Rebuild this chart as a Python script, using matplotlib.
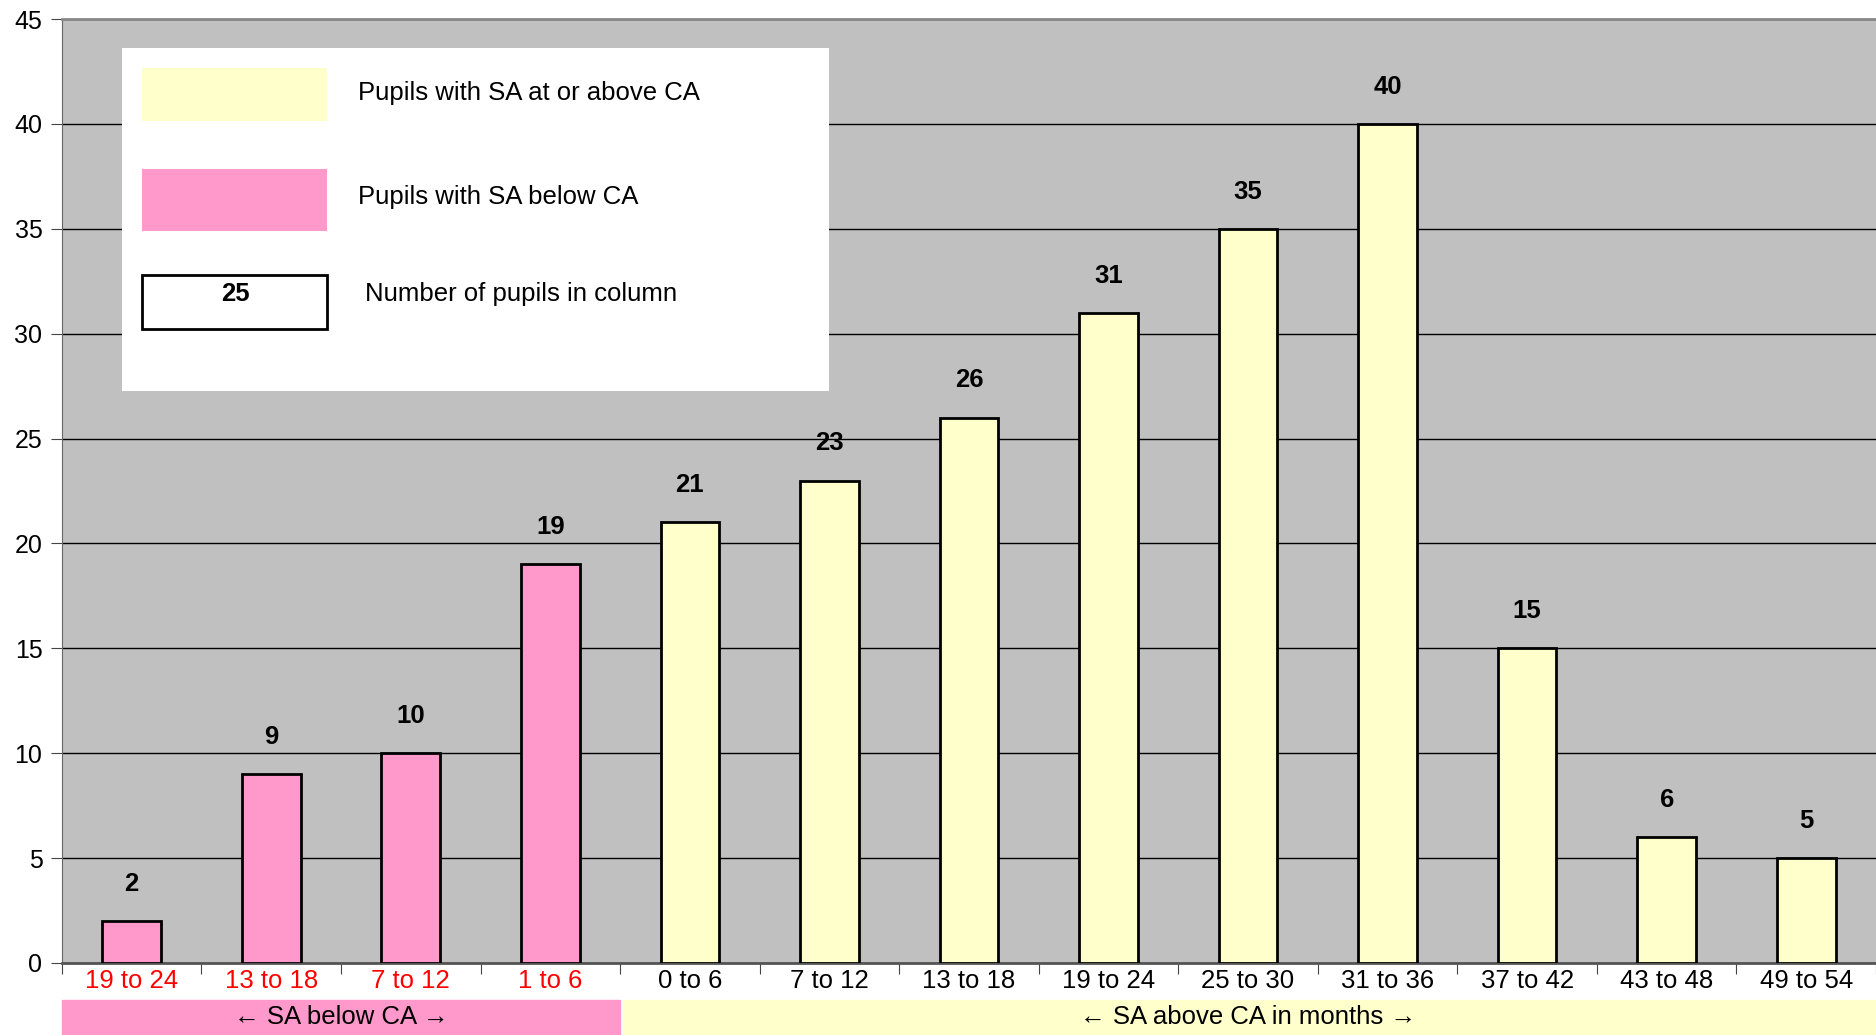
import numpy as np
import matplotlib
matplotlib.use("Agg")
import matplotlib.pyplot as plt
from matplotlib.patches import Rectangle

plt.rcParams['font.family'] = ['Liberation Sans', 'DejaVu Sans']

# data
categories = ["19 to 24", "13 to 18", "7 to 12", "1 to 6", "0 to 6", "7 to 12",
              "13 to 18", "19 to 24", "25 to 30", "31 to 36", "37 to 42",
              "43 to 48", "49 to 54"]
pupils = [2, 9, 10, 19, 21, 23, 26, 31, 35, 40, 15, 6, 5]
below = [True, True, True, True, False, False, False, False, False, False, False, False, False]

yellow = "#FFFFCC"
pink = "#FF99CC"

fig = plt.figure(figsize=(18.76, 10.35), dpi=100)
ax = fig.add_axes([0.033, 0.0696, 0.967, 0.912])
ax.set_facecolor("#C0C0C0")

x = np.arange(len(categories))
cols = [pink if b else yellow for b in below]
ax.bar(x, pupils, width=0.42, color=cols, edgecolor="black", linewidth=2, zorder=3)

for xi, v in zip(x, pupils):
    ax.text(xi, v + 1.2, str(v), ha="center", va="bottom", fontsize=18.5,
            fontweight="bold", zorder=4)

ax.set_xlim(-0.5, len(categories) - 0.5)
ax.set_ylim(0, 45)
ax.set_yticks(np.arange(0, 46, 5))
ax.yaxis.grid(True, color="black", linewidth=1)
ax.set_axisbelow(True)
ax.tick_params(axis="y", labelsize=18, length=8, color="#444444", pad=6)

# category ticks at boundaries, labels centred
ax.set_xticks(np.arange(-0.5, len(categories), 1))
ax.set_xticklabels([])
ax.set_xticks(x, minor=True)
ax.set_xticklabels(categories, minor=True)
ax.tick_params(axis="x", which="major", length=8, color="#444444")
ax.tick_params(axis="x", which="minor", length=0, labelsize=18.5, pad=4)
for lab, b in zip(ax.get_xticklabels(minor=True), below):
    lab.set_color("red" if b else "black")

ax.spines["right"].set_visible(False)
ax.spines["top"].set_color("#888888")
ax.spines["top"].set_linewidth(2)
ax.spines["left"].set_color("#666666")
ax.spines["bottom"].set_color("#555555")
ax.spines["bottom"].set_linewidth(2)

# bands below axis
tr = ax.get_xaxis_transform()
nb = sum(below)
ax.add_patch(Rectangle((-0.5, -0.076), nb, 0.037, transform=tr, color=pink,
                       clip_on=False, zorder=1))
ax.add_patch(Rectangle((nb - 0.5 + 0.02, -0.076), len(categories) - nb - 0.02, 0.037,
                       transform=tr, color=yellow, clip_on=False, zorder=1))
band_font = ['DejaVu Sans']
for xc, parts in [((nb - 1) / 2, "SA below CA"),
                  (nb - 0.5 + (len(categories) - nb) / 2, "SA above CA in months")]:
    ax.text(xc, -0.0575, "← " + parts + " →", transform=tr, ha="center",
            va="center", fontsize=18.5)

# legend box
fig.patches.append(Rectangle((122 / 1876, 1 - 391 / 1035), 707 / 1876, 343 / 1035,
                             transform=fig.transFigure, facecolor="white",
                             edgecolor="none", zorder=5))
fig.patches.append(Rectangle((142 / 1876, 1 - 121 / 1035), 185 / 1876, 53 / 1035,
                             transform=fig.transFigure, facecolor=yellow,
                             edgecolor="none", zorder=6))
fig.patches.append(Rectangle((142 / 1876, 1 - 231 / 1035), 185 / 1876, 62 / 1035,
                             transform=fig.transFigure, facecolor=pink,
                             edgecolor="none", zorder=6))
fig.patches.append(Rectangle((142 / 1876, 1 - 329 / 1035), 185 / 1876, 54 / 1035,
                             transform=fig.transFigure, facecolor="white",
                             edgecolor="black", linewidth=2, zorder=6))
fig.text(235 / 1876, 1 - 294 / 1035, "25", ha="center", va="center", fontsize=18.5,
         fontweight="bold", zorder=7)
fig.text(358 / 1876, 1 - 93 / 1035, "Pupils with SA at or above CA", ha="left",
         va="center", fontsize=18.5, zorder=7)
fig.text(358 / 1876, 1 - 197 / 1035, "Pupils with SA below CA", ha="left",
         va="center", fontsize=18.5, zorder=7)
fig.text(365 / 1876, 1 - 294 / 1035, "Number of pupils in column", ha="left",
         va="center", fontsize=18.5, zorder=7)

plt.savefig("out.png")
